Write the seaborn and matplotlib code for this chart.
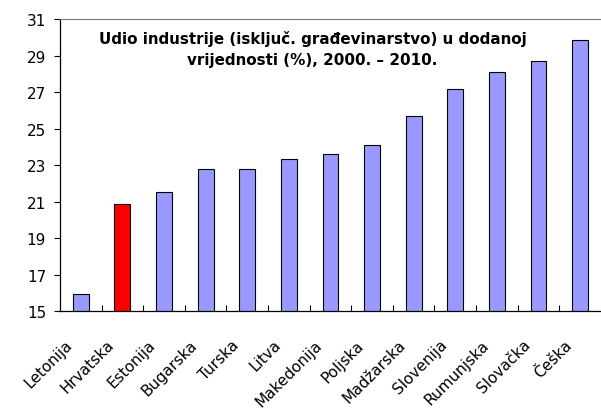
import numpy as np
import pandas as pd
import seaborn as sns
import matplotlib.pyplot as plt
from matplotlib.transforms import ScaledTranslation

# podaci očitani sa slike
zemlje = ['Letonija', 'Hrvatska', 'Estonija', 'Bugarska', 'Turska', 'Litva',
          'Makedonija', 'Poljska', 'Madžarska', 'Slovenija', 'Rumunjska',
          'Slovačka', 'Češka']
udio = [15.95, 20.88, 21.55, 22.8, 22.8, 23.35, 23.6, 24.08, 25.67, 27.15,
        28.08, 28.72, 29.83]
boje = ['#FF0000' if z == 'Hrvatska' else '#9999FF' for z in zemlje]

df = pd.DataFrame({'zemlja': zemlje, 'udio': udio})

sns.set_style('white')
plt.rcParams['font.family'] = ['DejaVu Sans']

fig = plt.figure(figsize=(6.01, 4.10), dpi=100)
ax = fig.add_axes([0.0998, 0.239, 0.9, 0.712])

sns.barplot(data=df, x='zemlja', y='udio', hue='zemlja', palette=boje,
            legend=False, width=0.38, edgecolor='black', linewidth=0.8,
            saturation=1, ax=ax)

ax.set_ylim(15, 31)
ax.set_yticks(np.arange(15, 32, 2))
ax.set_xlim(-0.5, len(zemlje) - 0.5)
ax.set_xlabel('')
ax.set_ylabel('')

ax.set_xticks(range(len(zemlje)))
ax.set_xticklabels(zemlje, rotation=45, ha='right', rotation_mode='anchor')
ax.set_xticks(np.arange(0.5, len(zemlje) - 0.5, 1), minor=True)
ax.tick_params(axis='x', which='major', length=0, pad=18.5, labelsize=11,
               labelcolor='black')
ax.tick_params(axis='x', which='minor', direction='in', length=4,
               width=0.8, color='black', bottom=True)
ax.tick_params(axis='y', which='major', direction='out', length=4,
               width=0.8, color='black', left=True, labelsize=11, pad=6,
               labelcolor='black')

# oznake malo ulijevo, kao na originalu
pomak = ScaledTranslation(-11.5 / 72, 0, fig.dpi_scale_trans)
for lbl in ax.get_xticklabels():
    lbl.set_transform(lbl.get_transform() + pomak)

for s in ['left', 'bottom']:
    ax.spines[s].set_color('black')
    ax.spines[s].set_linewidth(0.9)
ax.spines['top'].set_color('#808080')
ax.spines['top'].set_linewidth(0.9)
ax.spines['right'].set_visible(False)

ax.text(0.467, 0.962, 'Udio industrije (isključ. građevinarstvo) u dodanoj\n'
        'vrijednosti (%), 2000. – 2010.', transform=ax.transAxes,
        ha='center', va='top', fontsize=10.9, fontweight='bold',
        color='black', linespacing=1.45)

fig.savefig('out.png', dpi=100)
